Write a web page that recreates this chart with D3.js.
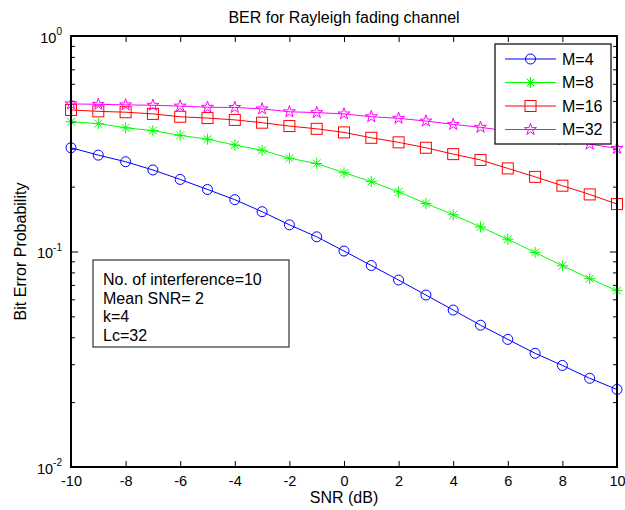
<!DOCTYPE html>
<html>
<head>
<meta charset="utf-8">
<script src="https://cdn.jsdelivr.net/npm/d3@7"></script>
<style>
  body { margin: 0; background: #fff; }
  svg { font-family: "Liberation Sans", Arial, sans-serif; }
</style>
</head>
<body>
<div id="chart"></div>
<script>
const snr = [-10, -9, -8, -7, -6, -5, -4, -3, -2, -1, 0, 1, 2, 3, 4, 5, 6, 7, 8, 9, 10];

const ber4 = [0.303, 0.280, 0.261, 0.239, 0.216, 0.194, 0.174, 0.153, 0.133, 0.117, 0.1005,
  0.0861, 0.0737, 0.0628, 0.0535, 0.0455, 0.0391, 0.0337, 0.0296, 0.0258, 0.0229];
const ber8 = [0.400, 0.392, 0.375, 0.364, 0.346, 0.332, 0.312, 0.295, 0.271, 0.256, 0.232,
  0.211, 0.189, 0.167, 0.148, 0.130, 0.114, 0.099, 0.0859, 0.0748, 0.0658];
const ber16 = [0.454, 0.447, 0.443, 0.435, 0.422, 0.416, 0.408, 0.396, 0.382, 0.371, 0.357,
  0.337, 0.321, 0.303, 0.283, 0.266, 0.243, 0.222, 0.202, 0.184, 0.166];
const ber32 = [0.484, 0.482, 0.479, 0.477, 0.473, 0.467, 0.466, 0.459, 0.445, 0.441, 0.435,
  0.422, 0.415, 0.403, 0.389, 0.377, 0.362, 0.347, 0.331, 0.315, 0.301];

const seriesNames = ["M=4", "M=8", "M=16", "M=32"];
const xTicks = [-10, -8, -6, -4, -2, 0, 2, 4, 6, 8, 10];
const yMajor = [0.01, 0.1, 1];
const noteLines = ["No. of interference=10", "Mean SNR= 2", "k=4", "Lc=32"];

const colors = ["#0000ff", "#00ff00", "#ff0000", "#ff00ff"];
const markers = ["circle", "asterisk", "square", "star"];
const series = [ber4, ber8, ber16, ber32];

const width = 625, height = 510;
const m = { left: 71, right: 8, top: 36, bottom: 43 };

const svg = d3.select("#chart").append("svg")
  .attr("width", width).attr("height", height);

const x = d3.scaleLinear().domain([-10, 10]).range([m.left, width - m.right]);
const y = d3.scaleLog().domain([0.01, 1]).range([height - m.bottom, m.top]);

// minor log ticks
const yMinor = [];
[0.01, 0.1].forEach(base => { for (let k = 2; k <= 9; k++) yMinor.push(base * k); });

function drawMarker(g, type, color) {
  if (type === "circle") {
    g.append("circle").attr("r", 5).attr("fill", "none").attr("stroke", color);
  } else if (type === "square") {
    g.append("rect").attr("x", -5.5).attr("y", -5.5).attr("width", 11).attr("height", 11)
      .attr("fill", "none").attr("stroke", color);
  } else if (type === "asterisk") {
    const r = 5.5, d = r * 0.72;
    g.append("path")
      .attr("d", `M0,${-r}L0,${r}M${-r},0L${r},0M${-d},${-d}L${d},${d}M${-d},${d}L${d},${-d}`)
      .attr("stroke", color).attr("fill", "none");
  } else {
    g.append("path").attr("d", d3.symbol(d3.symbolStar, 44)())
      .attr("fill", "none").attr("stroke", color);
  }
}

// axes (ticks pointing inward)
const fontTick = "14.5px";
svg.append("g").attr("transform", `translate(0,${height - m.bottom})`)
  .call(d3.axisBottom(x).tickValues(xTicks).tickSize(-6).tickPadding(9).tickFormat(d => String(d)))
  .call(g => g.select(".domain").remove())
  .call(g => g.selectAll("text").attr("font-size", fontTick).attr("fill", "#000").attr("font-family", null));
svg.append("g").attr("transform", `translate(0,${m.top})`)
  .call(d3.axisTop(x).tickValues(xTicks).tickSize(-6).tickFormat(""))
  .call(g => g.select(".domain").remove());

svg.append("g").attr("transform", `translate(${m.left},0)`)
  .call(d3.axisLeft(y).tickValues(yMinor).tickSize(-4).tickFormat(""))
  .call(g => g.select(".domain").remove());
svg.append("g").attr("transform", `translate(${width - m.right},0)`)
  .call(d3.axisRight(y).tickValues(yMinor).tickSize(-4).tickFormat(""))
  .call(g => g.select(".domain").remove());
svg.append("g").attr("transform", `translate(${width - m.right},0)`)
  .call(d3.axisRight(y).tickValues(yMajor).tickSize(-7).tickFormat(""))
  .call(g => g.select(".domain").remove());

const yAx = svg.append("g").attr("transform", `translate(${m.left},0)`)
  .call(d3.axisLeft(y).tickValues(yMajor).tickSize(-7).tickPadding(9).tickFormat(""))
  .call(g => g.select(".domain").remove());
yAx.selectAll(".tick text").each(function (d) {
  const t = d3.select(this).attr("font-size", fontTick).attr("fill", "#000")
    .attr("font-family", null).attr("dy", "0.42em");
  t.append("tspan").text("10");
  t.append("tspan").attr("font-size", "10px").attr("dy", "-0.75em")
    .text(String(Math.round(Math.log10(d))));
});

svg.selectAll(".tick line").attr("stroke", "#000");

// data
const line = d3.line().x((d, i) => x(snr[i])).y(d => y(d));
series.forEach((s, k) => {
  svg.append("path").datum(s).attr("d", line)
    .attr("fill", "none").attr("stroke", colors[k]).attr("stroke-width", 1);
  s.forEach((v, i) => {
    const g = svg.append("g").attr("transform", `translate(${x(snr[i])},${y(v)})`);
    drawMarker(g, markers[k], colors[k]);
  });
});

// frame
svg.append("rect")
  .attr("x", m.left).attr("y", m.top)
  .attr("width", width - m.left - m.right).attr("height", height - m.top - m.bottom)
  .attr("fill", "none").attr("stroke", "#000").attr("stroke-width", 2);

// title and labels
svg.append("text").attr("x", (m.left + width - m.right) / 2).attr("y", 23)
  .attr("text-anchor", "middle").attr("font-size", "16px").text("BER for Rayleigh fading channel");
svg.append("text").attr("x", (m.left + width - m.right) / 2).attr("y", 503)
  .attr("text-anchor", "middle").attr("font-size", "16px").text("SNR (dB)");
svg.append("text").attr("transform", `translate(26,${(m.top + height - m.bottom) / 2}) rotate(-90)`)
  .attr("text-anchor", "middle").attr("font-size", "16px").text("Bit Error Probability");

// legend
const leg = svg.append("g");
leg.append("rect").attr("x", 495).attr("y", 44).attr("width", 116).attr("height", 100)
  .attr("fill", "#fff").attr("stroke", "#000").attr("stroke-width", 1.2);
seriesNames.forEach((name, k) => {
  const ly = 59 + k * 23.5;
  leg.append("line").attr("x1", 505).attr("x2", 556).attr("y1", ly).attr("y2", ly)
    .attr("stroke", colors[k]);
  drawMarker(leg.append("g").attr("transform", `translate(530.5,${ly})`), markers[k], colors[k]);
  leg.append("text").attr("x", 562).attr("y", ly).attr("dy", "0.36em")
    .attr("font-size", "16px").text(name);
});

// annotation box
const note = svg.append("g");
note.append("rect").attr("x", 93).attr("y", 260).attr("width", 196).attr("height", 87)
  .attr("fill", "#fff").attr("stroke", "#333").attr("stroke-width", 1.2);
noteLines.forEach((t, i) => {
  note.append("text").attr("x", 103).attr("y", 285 + i * 18.7)
    .attr("font-size", "16px").text(t);
});
</script>
</body>
</html>
